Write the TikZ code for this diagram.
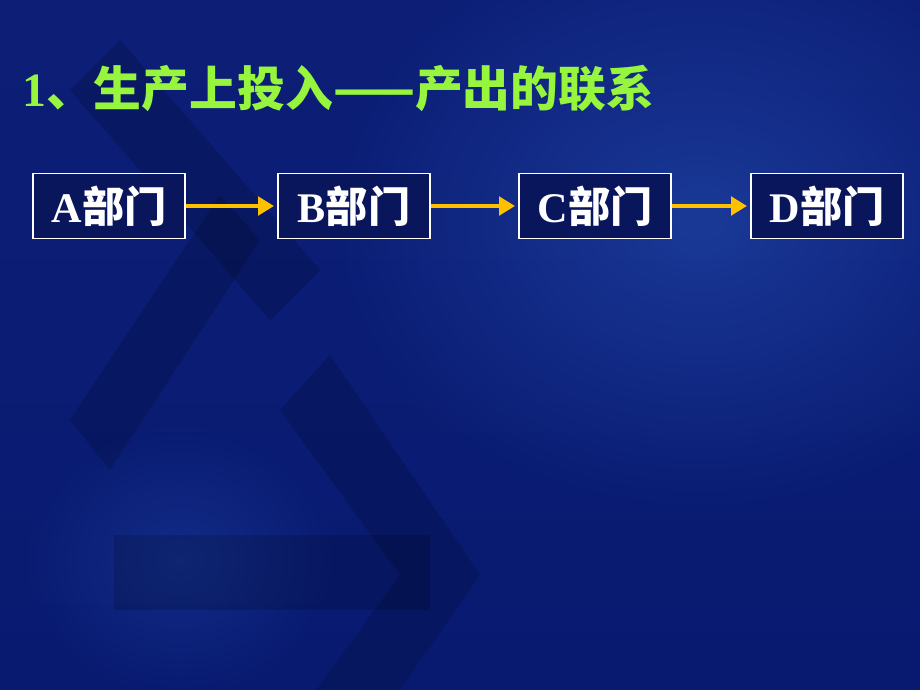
\documentclass[tikz,border=0pt]{standalone}
\usepackage{fontspec}
\setmainfont{Liberation Serif}
\newfontfamily\cjk{Noto Sans CJK SC}
\usetikzlibrary{arrows.meta,fadings}
\definecolor{slidetop}{RGB}{12,30,118}
\definecolor{slidebot}{RGB}{8,26,112}
\definecolor{glow}{RGB}{36,76,175}
\definecolor{boxfill}{RGB}{10,22,92}
\definecolor{titlegreen}{RGB}{150,245,60}
\definecolor{flowgold}{RGB}{255,192,0}
\tikzfading[name=softglow, inner color=transparent!0, outer color=transparent!100]

\begin{document}
\begin{tikzpicture}[x=0.025cm, y=-0.025cm,
  dept/.style={draw=white, line width=1.1pt, fill=boxfill, text=white,
    minimum width=3.8cm, minimum height=1.62cm, inner sep=0pt, font=\fontsize{30}{32}\selectfont\bfseries},
  flow/.style={draw=flowgold, line width=3.2pt, -{Triangle[length=0.4cm,width=0.46cm]}, shorten >=0.08cm},
  shadow/.style={fill=black, opacity=0.15}]

% background
\useasboundingbox (0,0) rectangle (920,690);
\begin{scope}
\clip (0,0) rectangle (920,690);
\shade[top color=slidetop, bottom color=slidebot] (0,0) rectangle (920,690);
\fill[glow, opacity=0.6, path fading=softglow] (700,220) ellipse [x radius=380, y radius=300];
\fill[glow, opacity=0.35, path fading=softglow] (180,560) ellipse [x radius=160, y radius=140];
\fill[shadow] (70,90) -- (120,40) -- (320,270) -- (270,320) -- cycle;
\fill[shadow] (70,420) -- (110,470) -- (260,240) -- (220,195) -- cycle;
\fill[shadow] (280,410) -- (330,355) -- (480,575) -- (330,790) -- (280,740) -- (400,575) -- cycle;
\fill[shadow] (114,535) rectangle (430,610);
\end{scope}

% title
\node[anchor=base west, inner sep=0pt, text=titlegreen, font=\fontsize{34}{36}\selectfont\bfseries] (title) at (22,106)
  {1{\cjk 、生产上投入——产出的联系}};

% departments
\node[dept] (A) at (109,206) {A{\cjk 部门}};
\node[dept] (B) at (354,206) {B{\cjk 部门}};
\node[dept] (C) at (595,206) {C{\cjk 部门}};
\node[dept] (D) at (827,206) {D{\cjk 部门}};

\draw[flow] (A) -- (B);
\draw[flow] (B) -- (C);
\draw[flow] (C) -- (D);

\end{tikzpicture}
\end{document}
